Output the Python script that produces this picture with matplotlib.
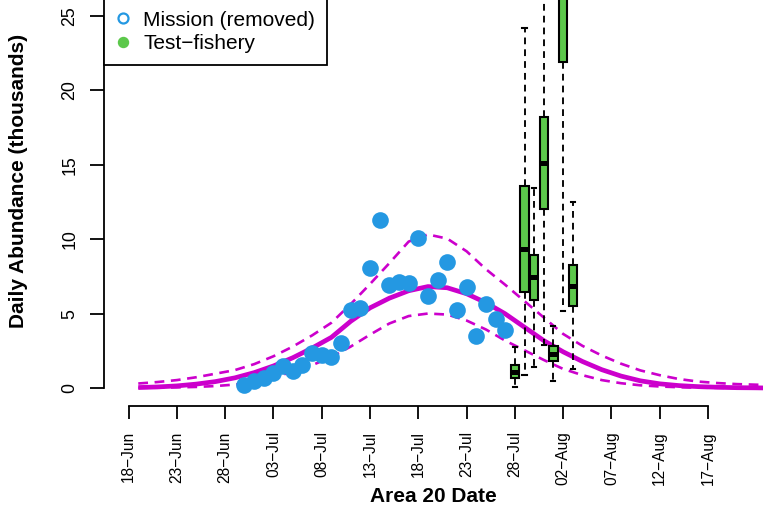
import matplotlib.pyplot as plt
from matplotlib.lines import Line2D

plt.rcParams['font.family'] = ['Liberation Sans', 'DejaVu Sans']

# x positions are days counted from 18-Jun
tick_days = [0, 5, 10, 15, 20, 25, 30, 35, 40, 45, 50, 55, 60]
tick_labels = ['18\u2212Jun', '23\u2212Jun', '28\u2212Jun', '03\u2212Jul', '08\u2212Jul',
               '13\u2212Jul', '18\u2212Jul', '23\u2212Jul', '28\u2212Jul', '02\u2212Aug',
               '07\u2212Aug', '12\u2212Aug', '17\u2212Aug']
y_ticks = [0, 5, 10, 15, 20, 25]

# Mission daily abundance (thousands)
mission_days = [12, 13, 14, 15, 16, 17, 18, 19, 20, 21, 22, 23, 24, 25,
                26, 27, 28, 29, 30, 31, 32, 33, 34, 35, 36, 37, 38, 39]
mission_abund = [0.22, 0.50, 0.72, 1.03, 1.48, 1.14, 1.58, 2.38, 2.23, 2.11, 3.07, 5.26, 5.36, 8.06,
                 11.29, 6.94, 7.14, 7.06, 10.08, 6.20, 7.26, 8.45, 5.24, 6.81, 3.51, 5.65, 4.64, 3.90]

# fitted run-timing curve and bounds
curve_days = [1, 3, 5, 7, 9, 11, 13, 15, 17, 19, 21, 23, 25, 27, 29, 31, 33,
              35, 37, 39, 41, 43, 45, 47, 49, 51, 53, 55, 57, 59, 61, 63, 65, 66]
fit_mid = [0.05, 0.09, 0.16, 0.28, 0.45, 0.70, 1.05, 1.50, 2.05, 2.70, 3.42, 4.50, 5.40, 6.05, 6.55, 6.83, 6.75,
           6.35, 5.75, 5.00, 4.10, 3.20, 2.45, 1.80, 1.25, 0.82, 0.50, 0.30, 0.18, 0.11, 0.07, 0.04, 0.03, 0.02]
fit_upper = [0.32, 0.42, 0.55, 0.74, 0.98, 1.22, 1.62, 2.15, 2.80, 3.55, 4.40, 5.65, 7.00, 8.40, 9.85, 10.33, 10.05,
             9.20, 8.00, 6.95, 5.85, 4.75, 3.65, 2.85, 2.20, 1.65, 1.20, 0.88, 0.62, 0.45, 0.35, 0.28, 0.24, 0.22]
fit_lower = [0.03, 0.04, 0.06, 0.09, 0.15, 0.25, 0.42, 0.72, 1.12, 1.55, 2.10, 2.80, 3.60, 4.35, 4.85, 5.02, 4.95,
             4.55, 3.95, 3.20, 2.55, 1.90, 1.30, 0.88, 0.55, 0.34, 0.20, 0.12, 0.07, 0.04, 0.03, 0.02, 0.01, 0.01]

# test-fishery boxplots
box_days = [40, 41, 42, 43, 44, 45, 46]
box_whislo = [0.11, 0.92, 1.40, 2.91, 0.47, 5.17, 1.31]
box_q1 = [0.70, 6.45, 5.95, 12.05, 1.86, 21.93, 5.53]
box_med = [1.07, 9.35, 7.45, 15.12, 2.32, 28.0, 6.90]
box_q3 = [1.55, 13.58, 8.95, 18.19, 2.82, 34.0, 8.30]
box_whishi = [2.75, 24.2, 13.48, 28.5, 4.21, 48.0, 12.53]

blue = '#2498E2'
green = '#5CC84B'
magenta = '#CC00CC'

fig = plt.figure(figsize=(7.67, 5.18), dpi=100)
ax = fig.add_axes([104 / 767, 112 / 518, 659 / 767, 450 / 518])

# curves
ax.plot(curve_days, fit_upper, color=magenta, lw=1.9, linestyle=(0, (3.7, 2.5)), zorder=2)
ax.plot(curve_days, fit_lower, color=magenta, lw=1.9, linestyle=(0, (3.7, 2.5)), zorder=2)
ax.plot(curve_days, fit_mid, color=magenta, lw=3.4, zorder=2, solid_capstyle='butt')

# boxes
stats = []
for lo, q1, med, q3, hi in zip(box_whislo, box_q1, box_med, box_q3, box_whishi):
    stats.append({'whislo': lo, 'q1': q1, 'med': med, 'q3': q3, 'whishi': hi, 'fliers': []})
ax.bxp(stats, positions=box_days, widths=0.85, patch_artist=True, showfliers=False,
       capwidths=0.42, manage_ticks=False,
       boxprops=dict(facecolor=green, edgecolor='black', linewidth=1.5),
       medianprops=dict(color='black', linewidth=3.6, solid_capstyle='butt'),
       whiskerprops=dict(color='black', linewidth=1.35, linestyle=(0, (3.6, 2.7))),
       capprops=dict(color='black', linewidth=1.5))

# mission points
ax.plot(mission_days, mission_abund, 'o', color=blue, markersize=12, markeredgewidth=0, zorder=4)

ax.set_xlim(-2.55, 65.7)
ax.set_ylim(-1.19, 29.03)

for side in ['top', 'right']:
    ax.spines[side].set_visible(False)
ax.spines['left'].set_bounds(0, 25)
ax.spines['bottom'].set_bounds(0, 60)
ax.spines['left'].set_linewidth(1.3)
ax.spines['bottom'].set_linewidth(1.3)

ax.set_xticks(tick_days)
ax.set_xticklabels(tick_labels, rotation=90, fontsize=11.2)
ax.set_yticks(y_ticks)
ax.set_yticklabels([str(v) for v in y_ticks], rotation=90, va='center', fontsize=12.8)
ax.tick_params(axis='x', length=9.6, width=1.3, pad=8.5)
ax.tick_params(axis='y', length=10, width=1.3, pad=8.5)

ax.set_xlabel('Area 20 Date', fontsize=15, fontweight='bold')
ax.xaxis.set_label_coords(0.5, -0.18)
ax.set_ylabel('Daily Abundance (thousands)', fontsize=15, fontweight='bold')
ax.yaxis.set_label_coords(-0.115, 0.5)

handles = [
    Line2D([], [], linestyle='none', marker='o', markersize=7.2, markerfacecolor='white',
           markeredgecolor=blue, markeredgewidth=1.6),
    Line2D([], [], linestyle='none', marker='o', markersize=7.2, color=green),
]
leg = ax.legend(handles, ['Mission (removed)', 'Test\u2212fishery'], loc='lower left',
                bbox_to_anchor=(104 / 767, (518 - 65) / 518), bbox_transform=fig.transFigure,
                borderaxespad=0, fontsize=15, fancybox=False, framealpha=1, edgecolor='black',
                borderpad=0.58, labelspacing=0.2, handlelength=0.67, handletextpad=0.63)
leg.get_frame().set_linewidth(1.3)

fig.savefig('out.png', dpi=100)
